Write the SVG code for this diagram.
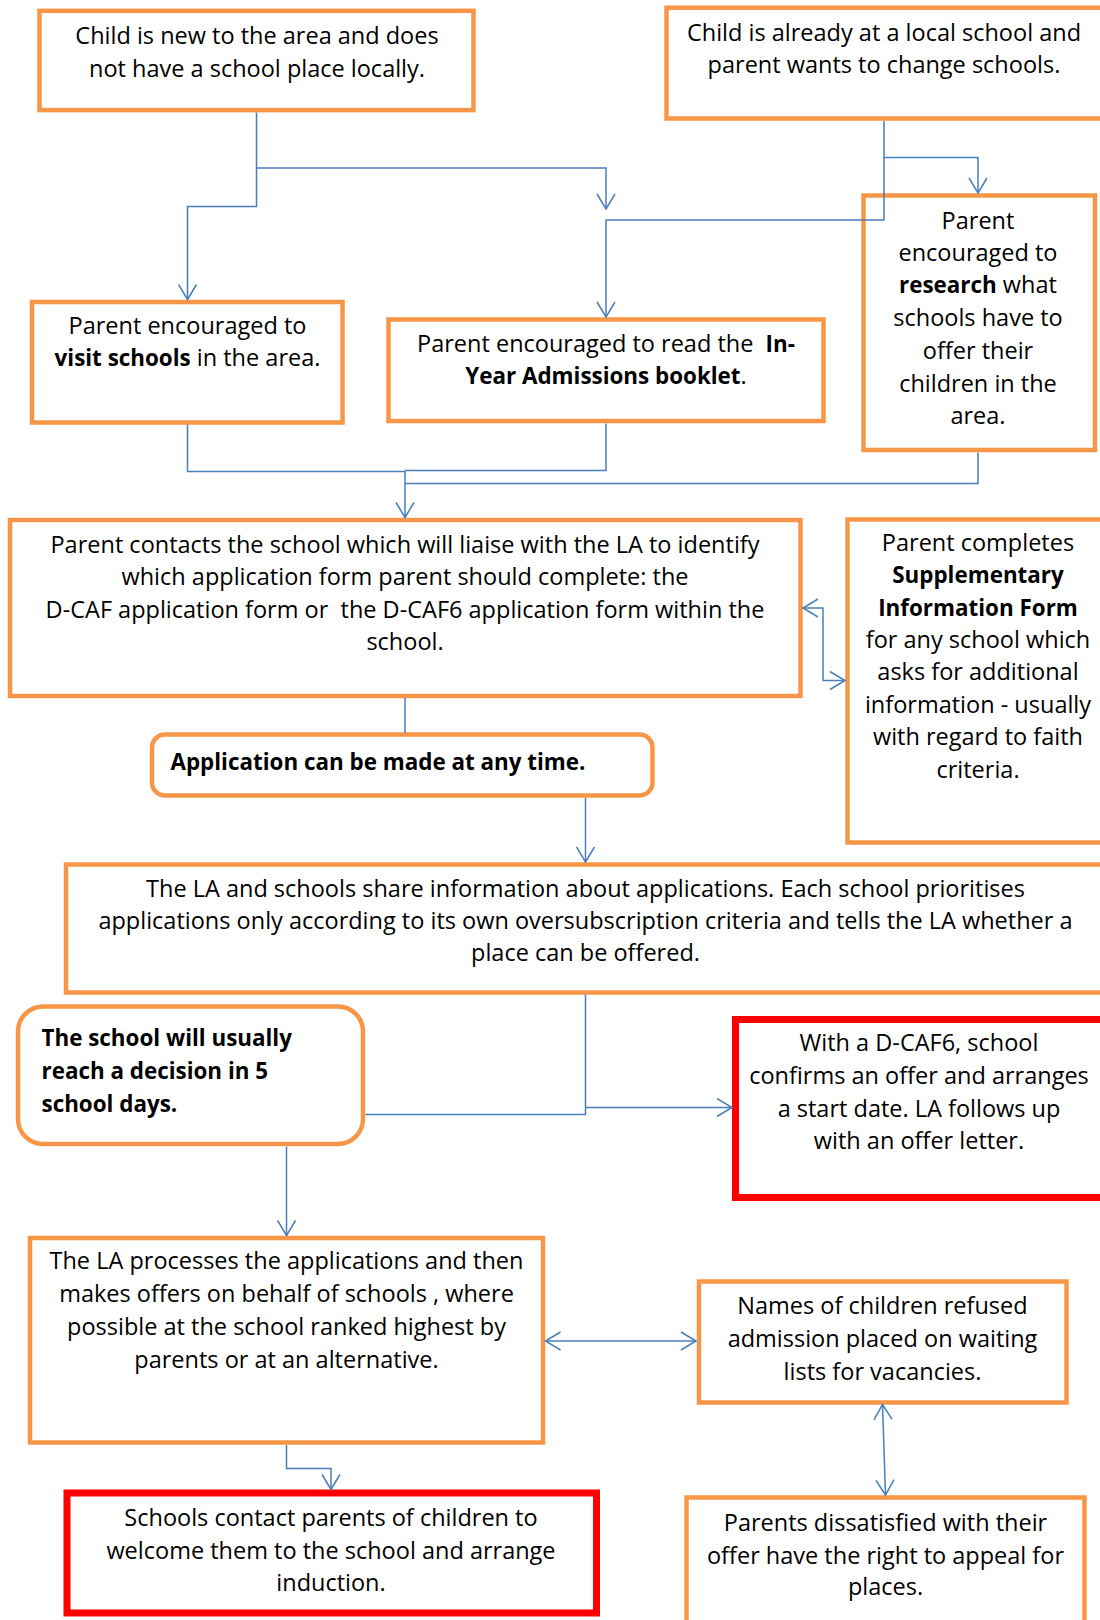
<svg xmlns="http://www.w3.org/2000/svg" width="1100" height="1620" viewBox="0 0 1100 1620">
<style>
  .box { fill: #FFFFFF; stroke: #F79646; stroke-width: 4.5; }
  .red { fill: #FFFFFF; stroke: #FF0000; stroke-width: 7; }
  text { font-family: "Open Sans", "Liberation Sans", sans-serif; font-size: 23.5px; fill: #000000; }
  .c { text-anchor: middle; }
  .b { font-weight: bold; font-size: 22.4px; }
  .conn { fill: none; stroke: #4A7EBB; stroke-width: 1.5; }
</style>
<defs>
  <marker id="arr" markerUnits="userSpaceOnUse" markerWidth="18" markerHeight="20" viewBox="0 0 18 20" refX="16" refY="10" orient="auto-start-reverse">
    <path d="M1,1 L16,10 L1,19" fill="none" stroke="#4A7EBB" stroke-width="1.5"/>
  </marker>
</defs>
<rect width="1100" height="1620" fill="#FFFFFF"/>

<g id="n-new">
  <rect class="box" x="39.5" y="10.8" width="434" height="99.3"/>
  <text class="c" x="257" y="44">Child is new to the area and does</text>
  <text class="c" x="257" y="77">not have a school place locally.</text>
</g>

<g id="n-change">
  <rect class="box" x="666.5" y="7.7" width="450" height="110.8"/>
  <text class="c" x="884" y="41">Child is already at a local school and</text>
  <text class="c" x="884" y="73">parent wants to change schools.</text>
</g>

<g id="n-visit">
  <rect class="box" x="32" y="302" width="310.5" height="120.5"/>
  <text class="c" x="187.5" y="334">Parent encouraged to</text>
  <text class="c" x="187.5" y="366"><tspan class="b">visit schools</tspan> in the area.</text>
</g>

<g id="n-booklet">
  <rect class="box" x="388.5" y="319.5" width="435" height="101.5"/>
  <text class="c" x="606" y="352" style="white-space:pre">Parent encouraged to read the  <tspan class="b">In-</tspan></text>
  <text class="c" x="606" y="384"><tspan class="b">Year Admissions booklet</tspan>.</text>
</g>

<g id="n-research">
  <rect class="box" x="863.5" y="195.5" width="231.5" height="254.5"/>
  <text class="c" x="978" y="228.5">Parent</text>
  <text class="c" x="978" y="261">encouraged to</text>
  <text class="c" x="978" y="293"><tspan class="b">research</tspan> what</text>
  <text class="c" x="978" y="326">schools have to</text>
  <text class="c" x="978" y="359">offer their</text>
  <text class="c" x="978" y="391.5">children in the</text>
  <text class="c" x="978" y="424">area.</text>
</g>

<g id="n-contact">
  <rect class="box" x="10" y="520" width="790.5" height="176"/>
  <text class="c" x="405" y="553">Parent contacts the school which will liaise with the LA to identify</text>
  <text class="c" x="405" y="585">which application form parent should complete: the</text>
  <text class="c" x="405" y="618" style="white-space:pre">D-CAF application form or  the D-CAF6 application form within the</text>
  <text class="c" x="405" y="650">school.</text>
</g>

<g id="n-supplementary">
  <rect class="box" x="847.5" y="519.5" width="300" height="323"/>
  <text class="c" x="978" y="551">Parent completes</text>
  <text class="c b" x="978" y="583">Supplementary</text>
  <text class="c b" x="978" y="615.5">Information Form</text>
  <text class="c" x="978" y="648">for any school which</text>
  <text class="c" x="978" y="680">asks for additional</text>
  <text class="c" x="978" y="712.5">information - usually</text>
  <text class="c" x="978" y="745">with regard to faith</text>
  <text class="c" x="978" y="777.5">criteria.</text>
</g>

<g id="n-anytime">
  <rect class="box" x="152" y="734.5" width="500.5" height="61" rx="13" ry="13"/>
  <text class="b" x="170.5" y="770">Application can be made at any time.</text>
</g>

<g id="n-share">
  <rect class="box" x="66" y="864.5" width="1100" height="128"/>
  <text class="c" x="585.5" y="896.5">The LA and schools share information about applications. Each school prioritises</text>
  <text class="c" x="585.5" y="928.5">applications only according to its own oversubscription criteria and tells the LA whether a</text>
  <text class="c" x="585.5" y="961">place can be offered.</text>
</g>

<g id="n-decision">
  <rect class="box" x="18" y="1006.5" width="345" height="137.5" rx="25" ry="25"/>
  <text class="b" x="41.5" y="1046">The school will usually</text>
  <text class="b" x="41.5" y="1079">reach a decision in 5</text>
  <text class="b" x="41.5" y="1112">school days.</text>
</g>

<g id="n-dcaf6">
  <rect class="red" x="735.5" y="1019.5" width="400" height="178"/>
  <text class="c" x="919" y="1051">With a D-CAF6, school</text>
  <text class="c" x="919" y="1084">confirms an offer and arranges</text>
  <text class="c" x="919" y="1116.5">a start date. LA follows up</text>
  <text class="c" x="919" y="1149">with an offer letter.</text>
</g>

<g id="n-process">
  <rect class="box" x="30" y="1238" width="513" height="204.5"/>
  <text class="c" x="286.5" y="1269">The LA processes the applications and then</text>
  <text class="c" x="286.5" y="1302">makes offers on behalf of schools , where</text>
  <text class="c" x="286.5" y="1335">possible at the school ranked highest by</text>
  <text class="c" x="286.5" y="1367.5">parents or at an alternative.</text>
</g>

<g id="n-waiting">
  <rect class="box" x="699" y="1281.5" width="367.5" height="121"/>
  <text class="c" x="882.5" y="1313.5">Names of children refused</text>
  <text class="c" x="882.5" y="1347">admission placed on waiting</text>
  <text class="c" x="882.5" y="1379.5">lists for vacancies.</text>
</g>

<g id="n-appeal">
  <rect class="box" x="686.5" y="1497.5" width="398" height="200"/>
  <text class="c" x="885.5" y="1531">Parents dissatisfied with their</text>
  <text class="c" x="885.5" y="1564">offer have the right to appeal for</text>
  <text class="c" x="885.5" y="1595">places.</text>
</g>

<g id="n-induction">
  <rect class="red" x="67" y="1493" width="529.5" height="120"/>
  <text class="c" x="331" y="1526">Schools contact parents of children to</text>
  <text class="c" x="331" y="1558.5">welcome them to the school and arrange</text>
  <text class="c" x="331" y="1591">induction.</text>
</g>

<g id="connectors">
  <path class="conn" d="M256.5,112.6 V206.5 H187.5 V299.5" marker-end="url(#arr)"/>
  <path class="conn" d="M256.5,168 H606 V209" marker-end="url(#arr)"/>
  <path class="conn" d="M884,121 V157.5 H978 V193" marker-end="url(#arr)"/>
  <path class="conn" d="M884,157.5 V220 H606 V317" marker-end="url(#arr)"/>
  <path class="conn" d="M187.5,424.5 V471.5 H405 V517.5" marker-end="url(#arr)"/>
  <path class="conn" d="M606,423.5 V470.5 H405"/>
  <path class="conn" d="M978,452.5 V483.5 H405"/>
  <path class="conn" d="M405,698 V733"/>
  <path class="conn" d="M585.5,798 V862" marker-end="url(#arr)"/>
  <path class="conn" d="M803,608 H823 V680.5 H845" marker-start="url(#arr)" marker-end="url(#arr)"/>
  <path class="conn" d="M585.5,994.5 V1114.5 H365.5"/>
  <path class="conn" d="M585.5,1107.5 H732" marker-end="url(#arr)"/>
  <path class="conn" d="M286.5,1146.5 V1235.5" marker-end="url(#arr)"/>
  <path class="conn" d="M545.5,1341 L696,1341" marker-start="url(#arr)" marker-end="url(#arr)"/>
  <path class="conn" d="M882.5,1404.5 L885.5,1495" marker-start="url(#arr)" marker-end="url(#arr)"/>
  <path class="conn" d="M286.5,1445 V1468.5 H331 V1489.5" marker-end="url(#arr)"/>
</g>
</svg>
